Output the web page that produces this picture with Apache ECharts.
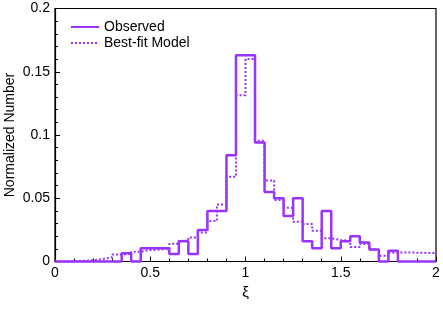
<!DOCTYPE html>
<html>
<head>
<meta charset="utf-8">
<script src="https://cdn.jsdelivr.net/npm/echarts@6/dist/echarts.min.js"></script>
<style>html,body{margin:0;padding:0;background:#fff;}#c{width:443px;height:313px;}</style>
</head>
<body>
<div id="c"></div>
<script>
const xMin = 0;
const binWidth = 0.05;
const seriesNames = ['Observed', 'Best-fit Model'];
const observed = [0, 0, 0, 0, 0, 0, 0, 0.0065, 0, 0.0104,
  0.0104, 0.0104, 0.006, 0.016, 0.006, 0.025, 0.040, 0.040, 0.084, 0.163,
  0.163, 0.094, 0.055, 0.050, 0.036, 0.050, 0.016, 0.0104, 0.040, 0.0104,
  0.016, 0.020, 0.015, 0.0095, 0, 0.0085, 0, 0, 0, 0];
const model = [0, 0, 0.0005, 0.001, 0.002, 0.0033, 0.0055, 0.006, 0.0078, 0.009,
  0.0095, 0.0098, 0.014, 0.0165, 0.019, 0.023, 0.032, 0.045, 0.067, 0.1315,
  0.160, 0.0954, 0.064, 0.0486, 0.0425, 0.0314, 0.0296, 0.0243, 0.0184, 0.017,
  0.0162, 0.0115, 0.0138, 0.0094, 0.0045, 0.007, 0.0072, 0.007, 0.0068, 0.0066];
const xTicks = [0, 0.5, 1, 1.5, 2];
const yTicks = [0, 0.05, 0.1, 0.15, 0.2];

function toSteps(vals) {
  const pts = vals.map((v, i) => [+(xMin + i * binWidth).toFixed(4), v]);
  pts.push([+(xMin + vals.length * binWidth).toFixed(4), vals[vals.length - 1]]);
  return pts;
}

const color = '#9933ff';
const font = 'Liberation Sans, Arial, Helvetica, sans-serif';
const chart = echarts.init(document.getElementById('c'), null, {renderer: 'canvas'});
chart.setOption({
  animation: false,
  backgroundColor: '#fff',
  textStyle: {fontFamily: font},
  grid: {left: 55, right: 7, top: 8.5, bottom: 51.5, show: true, borderColor: '#000', borderWidth: 1.2,
    containLabel: false, outerBoundsMode: 'none'},
  legend: {
    left: 65, top: 15, orient: 'vertical', itemWidth: 28, itemHeight: 14, itemGap: 2,
    itemStyle: {opacity: 0},
    textStyle: {fontSize: 14, color: '#000', fontFamily: font},
    data: seriesNames
  },
  xAxis: {
    type: 'value', min: xTicks[0], max: xTicks[xTicks.length - 1], interval: 0.5,
    name: 'ξ', nameLocation: 'middle', nameGap: 23,
    nameTextStyle: {fontSize: 15, color: '#000', fontFamily: font},
    axisLine: {show: true, lineStyle: {color: '#000', width: 1.2}},
    axisTick: {show: true, inside: true, length: 5, lineStyle: {color: '#000'}},
    minorTick: {show: true, splitNumber: 5, length: 3, lineStyle: {color: '#000'}},
    splitLine: {show: false},
    axisLabel: {fontSize: 14, color: '#000', margin: 5, fontFamily: font,
      formatter: v => String(v)}
  },
  yAxis: {
    type: 'value', min: yTicks[0], max: yTicks[yTicks.length - 1], interval: 0.05,
    name: 'Normalized Number', nameLocation: 'middle', nameGap: 38, nameMoveOverlap: false,
    nameTextStyle: {fontSize: 14, color: '#000', fontFamily: font},
    axisLine: {show: true, lineStyle: {color: '#000', width: 1.2}},
    axisTick: {show: true, inside: true, length: 5, lineStyle: {color: '#000'}},
    minorTick: {show: true, splitNumber: 5, length: 3, lineStyle: {color: '#000'}},
    splitLine: {show: false},
    axisLabel: {fontSize: 14, color: '#000', margin: 5, fontFamily: font,
      formatter: v => String(+v.toFixed(2))}
  },
  series: [
    {
      name: seriesNames[0], type: 'line', step: 'end', data: toSteps(observed),
      symbol: 'none', clip: false, z: 3,
      lineStyle: {color: color, width: 2.5, type: 'solid'},
      itemStyle: {color: color}
    },
    {
      name: seriesNames[1], type: 'line', step: 'end', data: toSteps(model),
      symbol: 'none', clip: false, z: 2,
      lineStyle: {color: color, width: 2, type: [2, 2]},
      itemStyle: {color: color}
    }
  ]
});
</script>
</body>
</html>
